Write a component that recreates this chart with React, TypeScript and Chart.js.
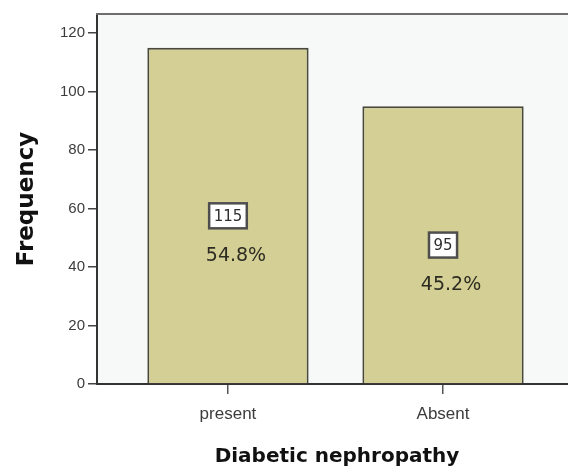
import { useEffect, useRef } from 'react';
import { Chart, registerables } from 'chart.js';

Chart.register(...registerables);

const categories = ['present', 'Absent'];
const frequencies = [115, 95];
const percentLabels = ['54.8%', '45.2%'];
const yTickValues = [0, 20, 40, 60, 80, 100, 120];
const yMax = 126.5;
const xMin = -0.609;
const xMax = 1.623;

export default function App() {
  const ref = useRef<HTMLCanvasElement>(null);

  useEffect(() => {
    if (!ref.current) return;

    const plotFrame = {
      id: 'plotFrame',
      beforeDraw(chart: any) {
        const { ctx, chartArea: a } = chart;
        ctx.save();
        ctx.fillStyle = '#f7f8f8';
        ctx.fillRect(a.left, a.top, a.right - a.left, a.bottom - a.top);
        ctx.restore();
      },
      afterDraw(chart: any) {
        const { ctx, chartArea: a } = chart;
        ctx.save();
        ctx.strokeStyle = '#6e6e6e';
        ctx.lineWidth = 2;
        ctx.beginPath();
        ctx.moveTo(a.left - 1, a.top);
        ctx.lineTo(a.right + 5, a.top);
        ctx.stroke();
        ctx.restore();
      },
    };

    const boxLabels = {
      id: 'boxLabels',
      afterDatasetsDraw(chart: any) {
        const { ctx } = chart;
        const meta = chart.getDatasetMeta(0);
        const yScale = chart.scales.y;
        meta.data.forEach((el: any, i: number) => {
          const cx = el.x;
          const cy = yScale.getPixelForValue(frequencies[i] / 2);
          const txt = String(frequencies[i]);
          ctx.save();
          ctx.font = '15px "DejaVu Sans"';
          const w = ctx.measureText(txt).width + 9;
          const h = 25;
          ctx.fillStyle = '#ffffff';
          ctx.fillRect(cx - w / 2, cy - h / 2, w, h);
          ctx.strokeStyle = '#4e4e4e';
          ctx.lineWidth = 2.5;
          ctx.strokeRect(cx - w / 2, cy - h / 2, w, h);
          ctx.fillStyle = '#2e2e2e';
          ctx.textAlign = 'center';
          ctx.textBaseline = 'middle';
          ctx.fillText(txt, cx, cy + 1);
          ctx.font = '19px "DejaVu Sans"';
          ctx.fillStyle = '#2c2c22';
          ctx.fillText(percentLabels[i], cx + 8, cy + 40);
          ctx.restore();
        });
      },
    };

    const chart = new Chart(ref.current, {
      type: 'bar',
      data: {
        datasets: [
          {
            data: frequencies.map((v, i) => ({ x: i, y: v })),
            backgroundColor: '#d4cf94',
            borderColor: '#4a4a3c',
            borderWidth: 2,
            barPercentage: 0.75,
            categoryPercentage: 1,
          },
        ],
      },
      options: {
        responsive: false,
        animation: false,
        layout: { padding: { top: 14, right: 3, left: 0, bottom: 0 } },
        plugins: {
          legend: { display: false },
          tooltip: { enabled: false },
        },
        scales: {
          x: {
            type: 'linear',
            min: xMin,
            max: xMax,
            offset: false,
            afterBuildTicks: (s: any) => {
              s.ticks = categories.map((_, i) => ({ value: i }));
            },
            afterFit: (s: any) => {
              s.height = 85;
            },
            ticks: {
              callback: (v: any) => categories[v] ?? '',
              font: { family: '"Liberation Sans", Arial', size: 17 },
              color: '#3c3c3c',
              padding: 10,
              maxRotation: 0,
            },
            grid: {
              offset: false,
              drawOnChartArea: false,
              tickLength: 10,
              color: '#555555',
              lineWidth: 1.5,
            },
            border: { color: '#333333', width: 2 },
            title: {
              display: true,
              text: 'Diabetic nephropathy',
              font: { family: '"DejaVu Sans"', size: 20, weight: 'bold' },
              color: '#111111',
              padding: { top: 0, bottom: 0 },
            },
          },
          y: {
            min: 0,
            max: yMax,
            afterBuildTicks: (s: any) => {
              s.ticks = yTickValues.map((v) => ({ value: v }));
            },
            afterFit: (s: any) => {
              s.width = 97;
            },
            ticks: {
              font: { family: '"Liberation Sans", Arial', size: 15 },
              color: '#3c3c3c',
              padding: 3,
            },
            grid: {
              drawOnChartArea: false,
              tickLength: 9,
              color: '#444444',
              lineWidth: 1.5,
            },
            border: { color: '#333333', width: 2 },
            title: {
              display: true,
              text: 'Frequency',
              font: { family: '"DejaVu Sans"', size: 23, weight: 'bold' },
              color: '#111111',
              padding: { top: 13, bottom: 0 },
            },
          },
        },
      },
      plugins: [plotFrame, boxLabels],
    });

    return () => chart.destroy();
  }, []);

  return (
    <div
      style={{
        position: 'fixed',
        left: 0,
        top: 0,
        width: 568,
        height: 469,
        overflow: 'hidden',
        background: '#ffffff',
      }}
    >
      <canvas ref={ref} width={580} height={469} style={{ display: 'block', width: 580, height: 469 }} />
    </div>
  );
}
